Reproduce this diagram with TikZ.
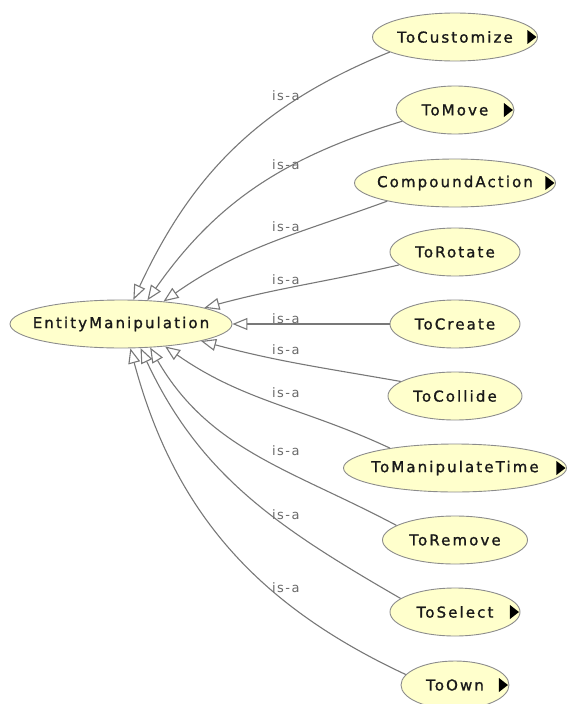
\documentclass[tikz,border=0pt]{standalone}
\usepackage{fontspec}
\setmainfont{DejaVu Sans}
\newfontfamily\classfont[LetterSpace=14, FakeBold=1.2]{DejaVu Sans}
\newfontfamily\isafont[LetterSpace=11]{DejaVu Sans}
\usetikzlibrary{shapes.geometric,arrows.meta}
\definecolor{classfill}{RGB}{255,255,204}
\definecolor{classline}{RGB}{140,140,140}
\definecolor{isaline}{RGB}{120,120,120}
\definecolor{isatext}{RGB}{105,105,105}
\def\childx{455}

\begin{document}
\begin{tikzpicture}[
    x=1pt, y=1pt,
    cls/.style={ellipse, draw=classline, fill=classfill, line width=0.9pt,
      minimum height=48, minimum width=#1, inner sep=0,
      font=\classfont\fontsize{15}{18}\selectfont, text=black!90},
    isa/.style={draw=isaline, line width=1.1pt,
      -{Triangle[fill=white, length=15pt, width=12pt]}},
    isalabel/.style={anchor=west, inner sep=0, text=isatext,
      font=\isafont\fontsize{13}{15}\selectfont},
    more/.style={fill=black}
  ]
  \useasboundingbox (0,0) rectangle (566,-704);

  % Superclass
  \node[cls=222] (em) at (121,-324) {\makebox[0pt]{EntityManipulation}};

  % Subclasses, one column
  \foreach \name/\txt/\w/\y in {cust/ToCustomize/165/37, move/ToMove/118/110,
      comp/CompoundAction/201/183, rot/ToRotate/130/252, create/ToCreate/130/324,
      coll/ToCollide/134/396, time/ToManipulateTime/223/468, rem/ToRemove/145/540,
      sel/ToSelect/130/612, own/ToOwn/108/685}
    \node[cls=\w] (\name) at (\childx,-\y) {\makebox[0pt]{\txt}};

  % Subclasses that can be expanded
  \foreach \name in {cust,move,comp,time,sel,own}
    \fill[more] (\name.east) ++(-1.5,0) -- ++(-9,7) -- ++(0,-14) -- cycle;

  % is-a links
  \foreach \name/\sa/\out/\ea/\in in {cust/193/202/63/65, move/192/197/42/55,
      comp/195/200/28/35, rot/193/193/11.5/15, coll/165/170/348.5/345,
      time/163/155/333.4/325, rem/166.7/152/321/300, sel/166/150/309/295,
      own/168.7/155/291/285}
    \draw[isa] (\name.\sa) to[out=\out, in=\in] (em.\ea);
  \draw[isa] (create) -- (em);

  % Link labels
  \foreach \i/\y in {1/96, 2/165, 3/227, 4/280, 5/319, 6/350, 7/393, 8/451,
      9/515, 10/588}
    \node[isalabel] (isa\i) at (272,-\y) {is-a};
\end{tikzpicture}
\end{document}
